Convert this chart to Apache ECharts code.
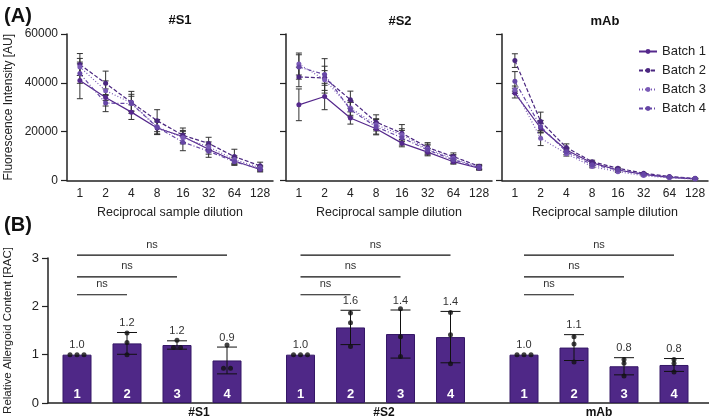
<!DOCTYPE html>
<html lang="en">
<head>
<meta charset="UTF-8">
<title>Fluorescence intensity / RAC</title>
<script src="https://cdn.jsdelivr.net/npm/echarts@6/dist/echarts.min.js"></script>
<style>
  html, body { margin: 0; padding: 0; background: #fff; }
  #chart { width: 709px; height: 420px; }
</style>
</head>
<body>
<div id="chart"></div>
<script>
// ---- panel A: dilution curves, rows = Batch 1..4
var dilutions = ['1', '2', '4', '8', '16', '32', '64', '128'];
var batches = ['Batch 1', 'Batch 2', 'Batch 3', 'Batch 4'];

var s1Mean = [
  [41000, 34000, 28000, 21500, 18000, 12800, 8000, 4500],
  [47500, 39800, 32000, 24500, 18500, 15200, 9800, 6000],
  [46500, 36800, 31800, 22000, 17500, 13800, 8600, 5200],
  [43800, 31700, 31500, 21800, 15700, 12000, 7700, 4800]
];
var s1Sd = [
  [7500, 3500, 3000, 2500, 2500, 2000, 1500, 1000],
  [4500, 5000, 4500, 4500, 3000, 2500, 3000, 1500],
  [3500, 4000, 3500, 3000, 2500, 2000, 1500, 1000],
  [4000, 3500, 3000, 3000, 3500, 2500, 1500, 1000]
];
var s2Mean = [
  [31000, 34400, 25600, 21200, 15300, 11600, 7700, 5000],
  [42400, 42000, 33100, 23900, 19400, 13500, 9800, 5800],
  [47700, 41300, 29700, 22800, 18700, 12900, 9100, 5400],
  [46500, 43400, 29000, 22000, 17500, 12500, 8500, 5300]
];
var s2Sd = [
  [6500, 5400, 2500, 2500, 1500, 1500, 1000, 800],
  [4000, 3000, 3500, 3000, 3500, 2000, 1500, 800],
  [4500, 5500, 3000, 2500, 2500, 2000, 1500, 800],
  [5000, 6500, 3000, 3000, 3000, 2000, 1500, 800]
];
var mabMean = [
  [35800, 21500, 12500, 7200, 4300, 2500, 1300, 700],
  [49100, 24200, 13500, 7700, 5000, 3000, 1600, 900],
  [37200, 17300, 11000, 5700, 3600, 2000, 1100, 600],
  [40600, 22100, 11800, 6500, 4300, 2600, 1400, 800]
];
var mabSd = [
  [2000, 2000, 1000, 500, 300, 200, 100, 100],
  [2800, 3800, 1500, 600, 400, 200, 100, 100],
  [1500, 3000, 1000, 500, 300, 200, 100, 100],
  [4000, 2500, 1200, 600, 400, 200, 100, 100]
];

// ---- panel B: relative allergoid content, replicates per batch
var groups = ['#S1', '#S2', 'mAb'];
var s1Rac = [[1, 1, 1], [1.45, 1.25, 1.0], [1.3, 1.15, 1.15], [1.2, 0.72, 0.72]];
var s2Rac = [[1, 1, 1], [1.86, 1.66, 1.17], [1.95, 1.37, 0.96], [1.87, 1.41, 0.81]];
var mabRac = [[1, 1, 1], [1.37, 1.22, 0.85], [0.9, 0.82, 0.56], [0.9, 0.82, 0.64]];
var sigPairs = [[0, 1], [0, 2], [0, 3]];   // batch 1 vs 2, 3, 4
var sigLevels = [2.24, 2.61, 3.06];
var sigText = ['ns', 'ns', 'ns'];

var colors = ['#55288c', '#4b2780', '#7a5ab6', '#6646a6'];
var dashes = ['solid', [4, 2], [1, 2], [4, 2, 1, 2]];
var ink = '#222';
var font = '"Liberation Sans", Arial, sans-serif';

var chart = echarts.init(document.getElementById('chart'));

var panels = [
  { mean: s1Mean, sd: s1Sd, left: 67 },
  { mean: s2Mean, sd: s2Sd, left: 286 },
  { mean: mabMean, sd: mabSd, left: 502 }
];

var grids = [], xAxes = [], yAxes = [], series = [];

panels.forEach(function (p, k) {
  grids.push({ left: p.left, top: 34, width: 206, height: 146.5, outerBoundsMode: 'none' });
  xAxes.push({
    gridIndex: k, type: 'category', data: dilutions,
    axisLine: { lineStyle: { color: ink, width: 1.5 } },
    axisTick: { alignWithLabel: true, length: 5, interval: 0, lineStyle: { color: ink, width: 1.2 } },
    axisLabel: { color: ink, fontSize: 12, margin: 7, interval: 0 },
    name: 'Reciprocal sample dilution', nameLocation: 'middle', nameGap: 26,
    nameTextStyle: { color: ink, fontSize: 12.5 }
  });
  yAxes.push({
    gridIndex: k, type: 'value', min: 0, max: 60000, interval: 20000,
    splitLine: { show: false },
    axisLine: { show: true, lineStyle: { color: ink, width: 1.5 } },
    axisTick: { show: true, length: 6, lineStyle: { color: ink, width: 1.2 } },
    axisLabel: { show: k === 0, color: ink, fontSize: 12, margin: 9, formatter: function (v) { return String(v); } },
    name: k === 0 ? 'Fluorescence Intensity [AU]' : '',
    nameLocation: 'middle', nameGap: 52,
    nameTextStyle: { color: ink, fontSize: 12 }
  });
  p.mean.forEach(function (row, b) {
    series.push({
      name: batches[b], type: 'line', xAxisIndex: k, yAxisIndex: k,
      data: row, symbol: 'circle', symbolSize: 5, z: 3,
      itemStyle: { color: colors[b] },
      lineStyle: { color: colors[b], width: 1.2, type: dashes[b] }
    });
    series.push({
      name: 'sd', type: 'custom', xAxisIndex: k, yAxisIndex: k, z: 2,
      data: row.map(function (m, i) { return [i, m, p.sd[b][i]]; }),
      encode: { x: 0, y: 1 },
      renderItem: function (params, api) {
        var x = api.value(0), m = api.value(1), s = api.value(2);
        var t = api.coord([x, m + s]), d = api.coord([x, m - s]);
        var st = { stroke: '#333', lineWidth: 1 };
        return {
          type: 'group', children: [
            { type: 'line', shape: { x1: t[0], y1: t[1], x2: d[0], y2: d[1] }, style: st },
            { type: 'line', shape: { x1: t[0] - 3, y1: t[1], x2: t[0] + 3, y2: t[1] }, style: st },
            { type: 'line', shape: { x1: d[0] - 3, y1: d[1], x2: d[0] + 3, y2: d[1] }, style: st }
          ]
        };
      }
    });
  });
});

// panel B
var groupStep = 4.47;
grids.push({ left: 48, top: 258, width: 661, height: 145, outerBoundsMode: 'none' });
xAxes.push({
  gridIndex: 3, type: 'value', min: -0.58, max: 12.64,
  axisLine: { show: true, onZero: false, lineStyle: { color: ink, width: 1.5 } },
  axisTick: { show: false }, axisLabel: { show: false }, splitLine: { show: false }
});
yAxes.push({
  gridIndex: 3, type: 'value', min: 0, max: 3, interval: 1,
  splitLine: { show: false },
  axisLine: { show: true, onZero: false, lineStyle: { color: ink, width: 1.5 } },
  axisTick: { show: true, length: 6, lineStyle: { color: ink, width: 1.2 } },
  axisLabel: { color: ink, fontSize: 13, margin: 9 },
  name: 'Relative Allergoid Content [RAC]', nameLocation: 'middle', nameGap: 34,
  nameTextStyle: { color: ink, fontSize: 11.5 }
});

function meanOf(a) { return a.reduce(function (s, v) { return s + v; }, 0) / a.length; }
function sdOf(a) {
  var m = meanOf(a);
  return Math.sqrt(a.reduce(function (s, v) { return s + (v - m) * (v - m); }, 0) / (a.length - 1));
}

var barData = [], errData = [], dotData = [], bracketData = [];
[s1Rac, s2Rac, mabRac].forEach(function (set, g) {
  set.forEach(function (reps, i) {
    var x = g * groupStep + i;
    var m = meanOf(reps), s = sdOf(reps);
    barData.push([x, m, i + 1]);
    errData.push([x, m, s]);
    reps.forEach(function (v, j) {
      var same = reps.filter(function (w) { return w === v; }).length;
      var rank = reps.slice(0, j).filter(function (w) { return w === v; }).length;
      dotData.push([x + (rank - (same - 1) / 2) * 0.14, v]);
    });
  });
  sigPairs.forEach(function (pr, n) {
    bracketData.push([g * groupStep + pr[0], g * groupStep + pr[1], sigLevels[n], n]);
  });
});

series.push({
  type: 'bar', xAxisIndex: 3, yAxisIndex: 3, data: barData, barWidth: 29,
  encode: { x: 0, y: 1 },
  itemStyle: { color: '#4f2887', borderColor: '#341766', borderWidth: 1 },
  label: {
    show: true, position: 'insideBottom', distance: 2,
    formatter: function (p) { return String(p.value[2]); },
    color: '#fff', fontWeight: 'bold', fontSize: 13
  }
});
series.push({
  type: 'custom', xAxisIndex: 3, yAxisIndex: 3, data: errData, z: 4,
  encode: { x: 0, y: 1 },
  renderItem: function (params, api) {
    var x = api.value(0), m = api.value(1), s = api.value(2);
    var t = api.coord([x, m + s]), d = api.coord([x, m - s]);
    var st = { stroke: '#111', lineWidth: 1 };
    var kids = [];
    if (s > 0) {
      kids.push(
        { type: 'line', shape: { x1: t[0], y1: t[1], x2: d[0], y2: d[1] }, style: st },
        { type: 'line', shape: { x1: t[0] - 10, y1: t[1], x2: t[0] + 10, y2: t[1] }, style: st },
        { type: 'line', shape: { x1: d[0] - 10, y1: d[1], x2: d[0] + 10, y2: d[1] }, style: st }
      );
    }
    kids.push({
      type: 'text', x: t[0], y: t[1] - 4,
      style: { text: m.toFixed(1), align: 'center', verticalAlign: 'bottom', font: '11px ' + font, fill: '#333' }
    });
    return { type: 'group', children: kids };
  }
});
series.push({
  type: 'scatter', xAxisIndex: 3, yAxisIndex: 3, data: dotData, z: 5,
  symbolSize: 5, itemStyle: { color: '#111' }
});
series.push({
  type: 'custom', xAxisIndex: 3, yAxisIndex: 3, data: bracketData, z: 4,
  encode: { x: [0, 1], y: 2 },
  renderItem: function (params, api) {
    var a = api.coord([api.value(0), api.value(2)]);
    var b = api.coord([api.value(1), api.value(2)]);
    return {
      type: 'group', children: [
        { type: 'line', shape: { x1: a[0], y1: a[1], x2: b[0], y2: b[1] }, style: { stroke: '#111', lineWidth: 1.2 } },
        {
          type: 'text', x: (a[0] + b[0]) / 2, y: a[1] - 5,
          style: { text: sigText[api.value(3)], align: 'center', verticalAlign: 'bottom', font: '11px ' + font, fill: '#333' }
        }
      ]
    };
  }
});

function label(txt, x, y, size, bold) {
  return {
    type: 'text', x: x, y: y,
    style: { text: txt, align: 'center', verticalAlign: 'middle', font: (bold ? 'bold ' : '') + size + 'px ' + font, fill: '#111' }
  };
}

chart.setOption({
  animation: false,
  textStyle: { fontFamily: font },
  grid: grids, xAxis: xAxes, yAxis: yAxes, series: series,
  legend: {
    data: batches, orient: 'vertical', left: 633, top: 40,
    itemWidth: 18, itemHeight: 6, itemGap: 6,
    textStyle: { fontSize: 13, color: ink }
  },
  graphic: [
    label('(A)', 18, 16, 20, true),
    label('(B)', 18, 225, 20, true),
    label(groups[0], 180, 20, 13, true),
    label(groups[1], 400, 21, 13, true),
    label(groups[2], 605, 21, 13, true),
    label(groups[0], 199, 413, 12, true),
    label(groups[1], 384, 413, 12, true),
    label(groups[2], 599, 413, 12, true)
  ]
});
</script>
</body>
</html>
